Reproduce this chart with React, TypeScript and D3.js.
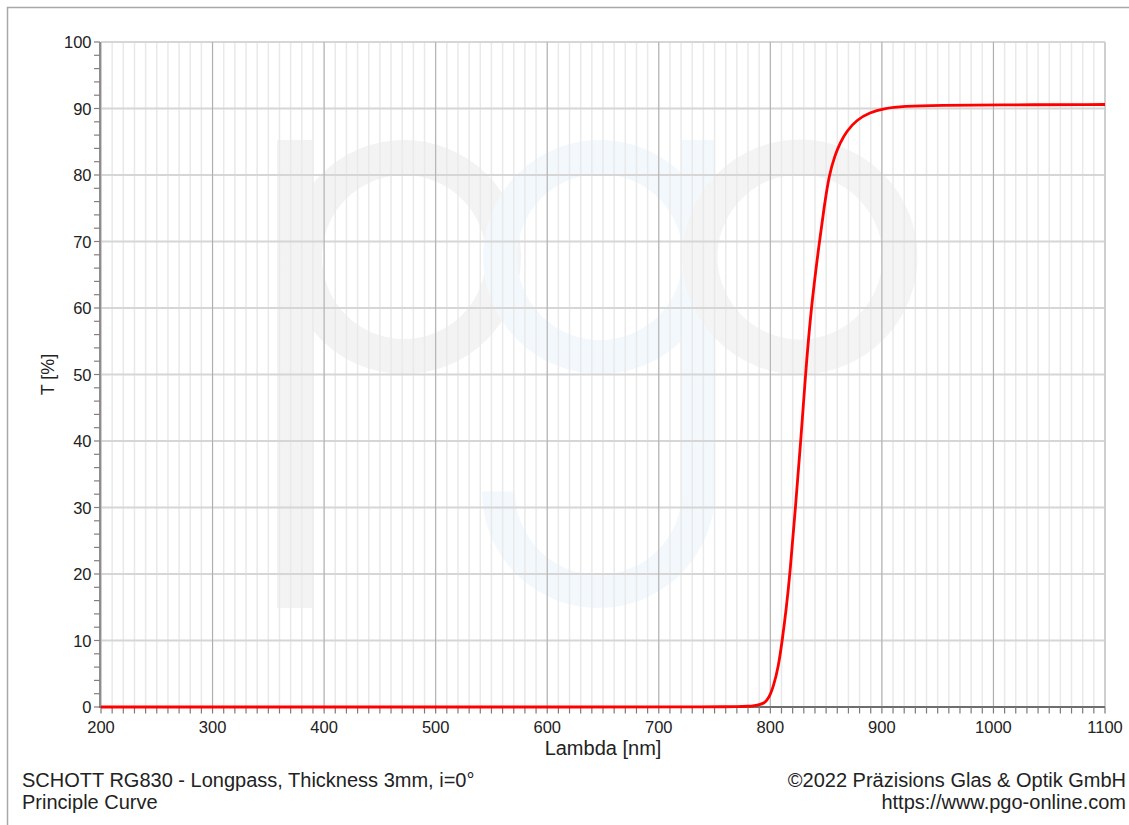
import React from "react";
import * as d3 from "d3";

// Transmission of SCHOTT RG830 (3 mm), wavelength in nm vs. T in %
const wavelengths = [
  200, 700, 740, 760, 770, 780, 786, 791, 795, 798, 800, 802.6, 807.2, 810.5, 814.3,
  817.6, 822.5, 827.3, 831.5, 836.5, 844, 848.1, 852.6, 858, 862.4, 868.4, 877.4,
  889.3, 901.3, 919, 952, 1000, 1100,
];
const transmission = [
  0, 0, 0.02, 0.04, 0.06, 0.1, 0.2, 0.4, 0.6, 1.3, 1.9, 3.0, 6.0, 9.8, 14.8,
  20, 30, 40, 50, 60, 70, 75, 80, 83.0, 84.8, 86.6, 88.3,
  89.4, 90.0, 90.35, 90.5, 90.55, 90.6,
];

const xMajorTicks = [200, 300, 400, 500, 600, 700, 800, 900, 1000, 1100];
const yMajorTicks = [0, 10, 20, 30, 40, 50, 60, 70, 80, 90, 100];

const titleLines = ["SCHOTT RG830 - Longpass, Thickness 3mm, i=0°", "Principle Curve"];
const creditLines = ["©2022 Präzisions Glas & Optik GmbH", "https://www.pgo-online.com"];

const W = 1129;
const H = 825;
const plot = { left: 101, right: 1105, top: 42, bottom: 707 };
const FONT = "'Liberation Sans', Arial, Helvetica, sans-serif";

export default function App() {
  const x = d3.scaleLinear().domain([200, 1100]).range([plot.left, plot.right]);
  const y = d3.scaleLinear().domain([0, 100]).range([plot.bottom, plot.top]);

  const xMinor = d3.range(200, 1101, 10);
  const yMinor = d3.range(0, 101, 2);

  const points: [number, number][] = wavelengths.map((w, i) => [w, transmission[i]]);
  const line = d3
    .line<[number, number]>()
    .x((d) => x(d[0]))
    .y((d) => y(d[1]))
    .curve(d3.curveBasis);

  const gray = "#f3f3f3";
  const blue = "#f2f8fc";

  return (
    <svg
      width={W}
      height={H}
      style={{ position: "absolute", left: 0, top: 0, background: "#fff" }}
      fontFamily={FONT}
    >
      {/* outer frame */}
      <rect x={7.5} y={7.5} width={1140} height={840} fill="#fff" stroke="#a8a8a8" strokeWidth={1.5} />

      {/* "pgo" watermark */}
      <g>
        <rect x={277} y={140} width={35} height={468} fill={gray} />
        <circle cx={404} cy={257} r={99.5} fill="none" stroke={gray} strokeWidth={35} />
        <circle cx={600} cy={257} r={100} fill="none" stroke={blue} strokeWidth={34} />
        <rect x={682} y={140} width={33} height={352} fill={blue} />
        <path
          d="M715,491.5 A116.5,116.5 0 0 1 482,491.5 L515,491.5 A83.5,83.5 0 0 0 682,491.5 Z"
          fill={blue}
        />
        <circle cx={800} cy={257} r={100} fill="none" stroke={gray} strokeWidth={35} opacity={0.95} />
      </g>

      {/* minor vertical grid */}
      {xMinor.map((v) => (
        <line key={"xm" + v} x1={x(v)} x2={x(v)} y1={plot.top} y2={plot.bottom} stroke="#e9e9e9" strokeWidth={1.5} />
      ))}
      {/* horizontal grid */}
      {yMajorTicks.map((v) => (
        <line key={"yg" + v} x1={plot.left} x2={plot.right} y1={y(v)} y2={y(v)} stroke="#d6d6d6" strokeWidth={2} />
      ))}
      {/* major vertical grid */}
      {xMajorTicks.map((v) => (
        <line key={"xg" + v} x1={x(v)} x2={x(v)} y1={plot.top} y2={plot.bottom} stroke="#acacac" strokeWidth={1} />
      ))}
      <line x1={plot.right} x2={plot.right} y1={plot.top} y2={plot.bottom} stroke="#cfcfcf" strokeWidth={2} />

      {/* y axis */}
      <line x1={plot.left - 1} x2={plot.left - 1} y1={plot.top} y2={plot.bottom} stroke="#8e8e8e" strokeWidth={2} />
      {yMinor.map((v) => (
        <line key={"yt" + v} x1={94} x2={plot.left - 1} y1={y(v)} y2={y(v)} stroke="#8a7c7c" strokeWidth={1.2} />
      ))}
      {yMajorTicks.map((v) => (
        <text key={"yl" + v} x={91.5} y={y(v) + 6} textAnchor="end" fontSize={16.5} fill="#222">
          {v}
        </text>
      ))}

      {/* x axis */}
      <line x1={plot.left - 2} x2={plot.right} y1={plot.bottom} y2={plot.bottom} stroke="#6e6e6e" strokeWidth={2} />
      {xMinor.map((v) => (
        <line key={"xt" + v} x1={x(v)} x2={x(v)} y1={plot.bottom} y2={plot.bottom + 6.5} stroke="#7a7a7a" strokeWidth={1.2} />
      ))}
      {xMajorTicks.map((v) => (
        <text key={"xl" + v} x={x(v)} y={733} textAnchor="middle" fontSize={16.5} fill="#222">
          {v}
        </text>
      ))}

      {/* transmission curve */}
      <path d={line(points) ?? ""} fill="none" stroke="#ff0000" strokeWidth={2.8} strokeLinejoin="round" />

      {/* axis titles */}
      <text x={(plot.left + plot.right) / 2} y={755} textAnchor="middle" fontSize={20} fill="#222">
        Lambda [nm]
      </text>
      <text
        transform={`translate(54,${(plot.top + plot.bottom) / 2}) rotate(-90)`}
        textAnchor="middle"
        fontSize={18}
        fill="#222"
      >
        T [%]
      </text>

      {/* footer */}
      {titleLines.map((t, i) => (
        <text key={"tl" + i} x={22} y={787 + i * 22} fontSize={20} fill="#222">
          {t}
        </text>
      ))}
      {creditLines.map((t, i) => (
        <text key={"cl" + i} x={1126} y={787 + i * 22} textAnchor="end" fontSize={20} fill="#222">
          {t}
        </text>
      ))}
    </svg>
  );
}
